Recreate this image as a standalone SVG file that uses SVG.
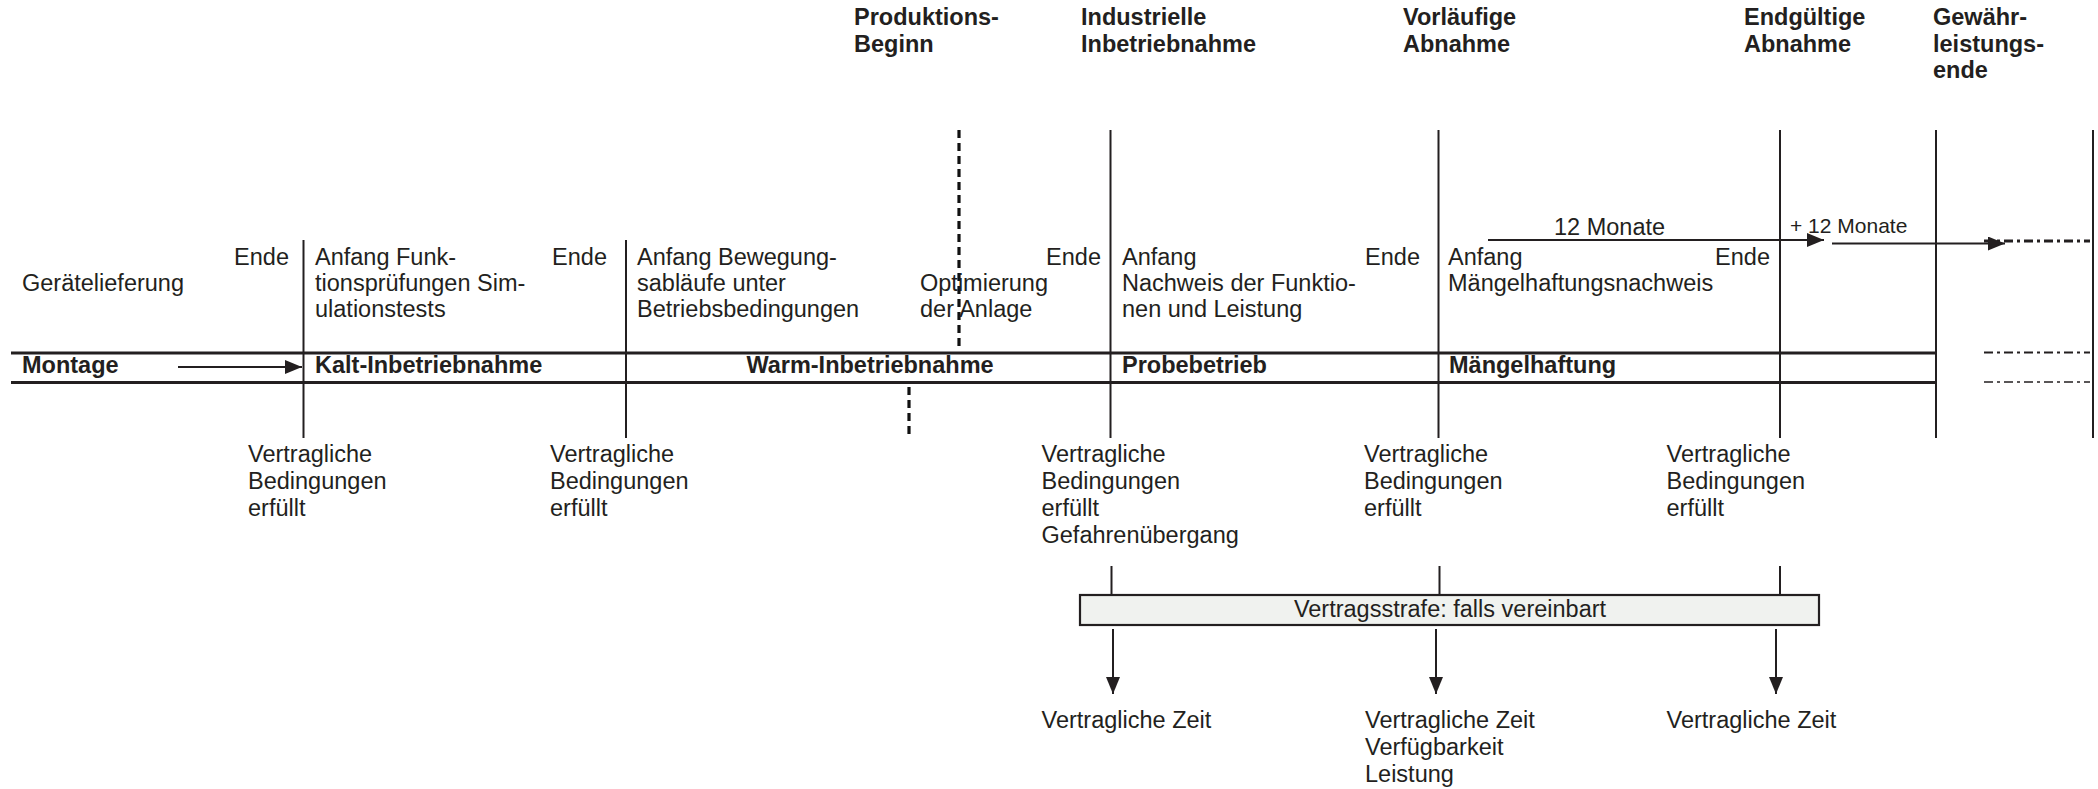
<svg xmlns="http://www.w3.org/2000/svg" width="2098" height="789" viewBox="0 0 2098 789">
<style>
  text { font-family: "Liberation Sans", Arial, sans-serif; font-size: 23.5px; fill: #231f20; }
  .b { font-weight: bold; }
  .s { font-size: 21px; }
  .e { text-anchor: end; }
  .m { text-anchor: middle; }
  .ln { stroke: #231f20; stroke-width: 2; fill: none; }
  .hl { stroke: #231f20; stroke-width: 3; fill: none; }
  .dash { stroke: #111; stroke-width: 3.2; stroke-dasharray: 8 5; fill: none; }
  .dd { stroke: #231f20; stroke-dasharray: 9 4 3 4; fill: none; }
  .arr { stroke: #231f20; stroke-width: 2; fill: none; marker-end: url(#ah); }
</style>
<defs>
  <marker id="ah" markerUnits="userSpaceOnUse" markerWidth="17" markerHeight="14" refX="17" refY="7" orient="auto">
    <path d="M0,0 L17,7 L0,14 Z" fill="#231f20"/>
  </marker>
</defs>
<rect width="2098" height="789" fill="#ffffff"/>

<g id="timeline">
  <line class="hl" x1="11" y1="353" x2="1936" y2="353"/>
  <line class="hl" x1="11" y1="382.5" x2="1936" y2="382.5"/>
  <line class="ln" x1="303.5" y1="240" x2="303.5" y2="438"/>
  <line class="ln" x1="626" y1="240" x2="626" y2="438"/>
  <line class="dash" x1="959" y1="130" x2="959" y2="350"/>
  <line class="dash" x1="909" y1="387" x2="909" y2="438"/>
  <line class="ln" x1="1110.5" y1="130" x2="1110.5" y2="438"/>
  <line class="ln" x1="1438.5" y1="130" x2="1438.5" y2="438"/>
  <line class="ln" x1="1780" y1="130" x2="1780" y2="438"/>
  <line class="ln" x1="1936" y1="130" x2="1936" y2="438"/>
  <line class="ln" x1="2093" y1="130" x2="2093" y2="438"/>
  <line class="dd" stroke-width="3" x1="1984" y1="241" x2="2090" y2="241"/>
  <line class="dd" stroke-width="2" x1="1984" y1="352.5" x2="2090" y2="352.5"/>
  <line class="dd" stroke-width="1.5" stroke="#555" x1="1984" y1="382" x2="2090" y2="382"/>
</g>

<g id="milestone-produktionsbeginn">
  <text class="b" x="854" y="25">Produktions-<tspan x="854" y="51.5">Beginn</tspan></text>
</g>
<g id="milestone-industrielle-inbetriebnahme">
  <text class="b" x="1081" y="25">Industrielle<tspan x="1081" y="51.5">Inbetriebnahme</tspan></text>
</g>
<g id="milestone-vorlaeufige-abnahme">
  <text class="b" x="1403" y="25">Vorläufige<tspan x="1403" y="51.5">Abnahme</tspan></text>
</g>
<g id="milestone-endgueltige-abnahme">
  <text class="b" x="1744" y="25">Endgültige<tspan x="1744" y="51.5">Abnahme</tspan></text>
</g>
<g id="milestone-gewaehrleistungsende">
  <text class="b" x="1933" y="25">Gewähr-<tspan x="1933" y="51.5">leistungs-</tspan><tspan x="1933" y="78">ende</tspan></text>
</g>

<g id="phase-montage">
  <text class="e" x="289" y="265">Ende</text>
  <text x="22" y="291">Gerätelieferung</text>
  <text class="b" x="22" y="373">Montage</text>
  <text x="248" y="462">Vertragliche<tspan x="248" y="489">Bedingungen</tspan><tspan x="248" y="516">erfüllt</tspan></text>
</g>

<g id="phase-kalt">
  <text x="315" y="265">Anfang Funk-<tspan x="315" y="291">tionsprüfungen Sim-</tspan><tspan x="315" y="317">ulationstests</tspan></text>
  <text class="e" x="607" y="265">Ende</text>
  <text class="b" x="315" y="373">Kalt-Inbetriebnahme</text>
  <text x="550" y="462">Vertragliche<tspan x="550" y="489">Bedingungen</tspan><tspan x="550" y="516">erfüllt</tspan></text>
</g>

<g id="phase-warm">
  <text x="637" y="265">Anfang Bewegung-<tspan x="637" y="291">sabläufe unter</tspan><tspan x="637" y="317">Betriebsbedingungen</tspan></text>
  <text x="920" y="291">Optimierung<tspan x="920" y="317">der Anlage</tspan></text>
  <text class="e" x="1101" y="265">Ende</text>
  <text class="b m" x="870" y="373">Warm-Inbetriebnahme</text>
  <text x="1041.5" y="462">Vertragliche<tspan x="1041.5" y="489">Bedingungen</tspan><tspan x="1041.5" y="516">erfüllt</tspan><tspan x="1041.5" y="543">Gefahrenübergang</tspan></text>
</g>

<g id="phase-probebetrieb">
  <text x="1122" y="265">Anfang<tspan x="1122" y="291">Nachweis der Funktio-</tspan><tspan x="1122" y="317">nen und Leistung</tspan></text>
  <text class="e" x="1420" y="265">Ende</text>
  <text class="b" x="1122" y="373">Probebetrieb</text>
  <text x="1364" y="462">Vertragliche<tspan x="1364" y="489">Bedingungen</tspan><tspan x="1364" y="516">erfüllt</tspan></text>
</g>

<g id="phase-maengelhaftung">
  <text x="1554" y="235">12 Monate</text>
  <text class="s" x="1790" y="233">+ 12 Monate</text>
  <text x="1448" y="265">Anfang<tspan x="1448" y="291">Mängelhaftungsnachweis</tspan></text>
  <text class="e" x="1770" y="265">Ende</text>
  <text class="b" x="1449" y="373">Mängelhaftung</text>
  <text x="1666.5" y="462">Vertragliche<tspan x="1666.5" y="489">Bedingungen</tspan><tspan x="1666.5" y="516">erfüllt</tspan></text>
</g>

<g id="vertragsstrafe">
  <rect x="1080" y="595" width="739" height="30" fill="#f0f2ef" stroke="#231f20" stroke-width="2.2"/>
  <text class="m" x="1450" y="617">Vertragsstrafe: falls vereinbart</text>
</g>

<g id="ergebnis-1">
  <text x="1041.5" y="728">Vertragliche Zeit</text>
</g>
<g id="ergebnis-2">
  <text x="1365" y="728">Vertragliche Zeit<tspan x="1365" y="755">Verfügbarkeit</tspan><tspan x="1365" y="782">Leistung</tspan></text>
</g>
<g id="ergebnis-3">
  <text x="1666.5" y="728">Vertragliche Zeit</text>
</g>

<g id="connectors">
  <line class="arr" stroke-width="1.6" x1="178" y1="367" x2="302" y2="367"/>
  <line class="arr" x1="1488" y1="240" x2="1824" y2="240"/>
  <line class="arr" x1="1832" y1="243.5" x2="2005" y2="243.5"/>
  <line class="ln" x1="1111.5" y1="566" x2="1111.5" y2="595"/>
  <line class="ln" x1="1439.5" y1="566" x2="1439.5" y2="595"/>
  <line class="ln" x1="1780" y1="566" x2="1780" y2="595"/>
  <line class="arr" x1="1113" y1="629" x2="1113" y2="694"/>
  <line class="arr" x1="1436" y1="629" x2="1436" y2="694"/>
  <line class="arr" x1="1776" y1="629" x2="1776" y2="694"/>
</g>
</svg>
